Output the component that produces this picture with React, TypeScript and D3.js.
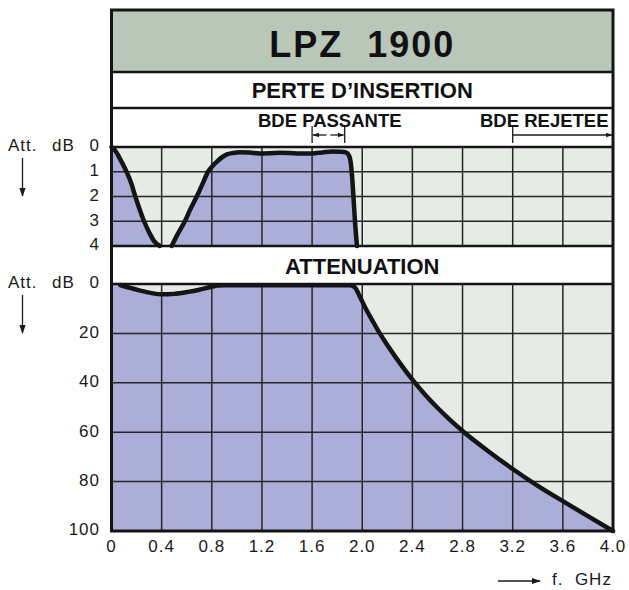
import React from "react";
import * as d3 from "d3";

// ---- data ----
const titleText = "LPZ 1900";
const insTitle = "PERTE D\u2019INSERTION";
const attTitle = "ATTENUATION";
const passLabel = "BDE PASSANTE";
const rejLabel = "BDE REJETEE";
const axisUnit = "Att.";
const axisDb = "dB";
const freqLabel = "f.  GHz";

const freqTicks = [0, 0.4, 0.8, 1.2, 1.6, 2.0, 2.4, 2.8, 3.2, 3.6, 4.0];
const freqTickLabels = ["0", "0.4", "0.8", "1.2", "1.6", "2.0", "2.4", "2.8", "3.2", "3.6", "4.0"];
const insTicks = [0, 1, 2, 3, 4];
const attTicks = [0, 20, 40, 60, 80, 100];

const passBand = [1.6, 1.86];
const rejStart = 3.2;

const insLeftFreq = [0, 0.03, 0.07, 0.12, 0.16, 0.19, 0.22, 0.26, 0.3, 0.34, 0.385];
const insLeftDb = [0, 0.15, 0.5, 1.0, 1.5, 2.0, 2.45, 3.0, 3.45, 3.8, 4.0];

const insRightFreq = [0.48, 0.53, 0.585, 0.63, 0.68, 0.725, 0.77, 0.81, 0.84, 0.88, 0.92, 0.97, 1.02, 1.1, 1.18, 1.26, 1.34, 1.42, 1.5, 1.6, 1.68, 1.76, 1.83, 1.87, 1.895, 1.91, 1.922, 1.932, 1.942, 1.958];
const insRightDb = [4.0, 3.5, 3.0, 2.5, 2.0, 1.5, 1.0, 0.75, 0.6, 0.42, 0.3, 0.24, 0.21, 0.22, 0.26, 0.25, 0.23, 0.24, 0.26, 0.26, 0.22, 0.18, 0.19, 0.22, 0.35, 0.7, 1.4, 2.2, 3.0, 4.0];

const attFreq = [0.07, 0.15, 0.23, 0.32, 0.4, 0.5, 0.61, 0.7, 0.79, 0.85, 0.9, 1.2, 1.5, 1.8, 1.9, 1.94, 1.98, 2.02, 2.08, 2.14, 2.2, 2.27, 2.4, 2.5, 2.6, 2.7, 2.8, 3.0, 3.2, 3.4, 3.6, 3.8, 4.0];
const attDb = [0.4, 1.6, 2.7, 3.7, 4.2, 4.0, 3.2, 2.3, 1.2, 0.6, 0.5, 0.5, 0.5, 0.5, 0.5, 1.3, 5.0, 9.2, 14.7, 20, 24.7, 29.9, 38.7, 44.7, 50.1, 55.0, 59.5, 67.5, 74.9, 81.7, 87.9, 94.0, 100];

// ---- layout ----
const W = 629;
const H = 590;
const X0 = 111.5;
const X1 = 613;
const TOP = 10;
const TITLE_B = 72;
const PERTE_B = 108;
const INS_T = 147;
const INS_B = 246;
const ATT_T = 284;
const ATT_B = 531;

const FONT = "'Liberation Sans', Arial, Helvetica, sans-serif";
const BG = "#e6ebe5";
const FILL = "#abaed8";
const TITLE_BG = "#b9c7b8";
const INK = "#141414";

type P = { f: number; v: number };
const zip = (a: number[], b: number[]): P[] => a.map((f, i) => ({ f, v: b[i] }));

export default function App() {
  const x = d3.scaleLinear().domain([0, 4]).range([X0, X1]);
  const yIns = d3.scaleLinear().domain([0, 4]).range([INS_T, INS_B]);
  const yAtt = d3.scaleLinear().domain([0, 100]).range([ATT_T, ATT_B]);

  const insLeft = zip(insLeftFreq, insLeftDb);
  const insRight = zip(insRightFreq, insRightDb);
  const att = zip(attFreq, attDb);
  const attArea = [{ f: 0, v: 0 }, ...att];

  const curve = d3.curveMonotoneX;
  const insLine = d3.line<P>().x((d) => x(d.f)).y((d) => yIns(d.v)).curve(curve);
  const insArea = d3.area<P>().x((d) => x(d.f)).y0(yIns(4)).y1((d) => yIns(d.v)).curve(curve);
  const attLine = d3.line<P>().x((d) => x(d.f)).y((d) => yAtt(d.v)).curve(curve);
  const attAreaGen = d3.area<P>().x((d) => x(d.f)).y0(yAtt(100)).y1((d) => yAtt(d.v)).curve(curve);

  const cx = (X0 + X1) / 2;
  const gridStroke = "#262626";
  const innerFreq = freqTicks.slice(1, -1);

  const labelStyle = { fontFamily: FONT, fontSize: 17, fill: "#1a1a1a", letterSpacing: 1 } as const;

  return (
    <svg width={W} height={H} style={{ position: "absolute", left: 0, top: 0, background: "#fff" }}>
      <defs>
        <marker id="ah" viewBox="0 0 10 10" refX="9" refY="5" markerWidth="7" markerHeight="7" orient="auto-start-reverse">
          <path d="M0,1.5 L10,5 L0,8.5 z" fill="#1a1a1a" />
        </marker>
        <marker id="ahs" viewBox="0 0 10 10" refX="9" refY="5" markerWidth="5" markerHeight="5" orient="auto-start-reverse">
          <path d="M0,1.5 L10,5 L0,8.5 z" fill="#1a1a1a" />
        </marker>
      </defs>

      {/* bands */}
      <rect x={X0} y={TOP} width={X1 - X0} height={TITLE_B - TOP} fill={TITLE_BG} />
      <rect x={X0} y={TITLE_B} width={X1 - X0} height={INS_T - TITLE_B} fill="#fff" />
      <rect x={X0} y={INS_T} width={X1 - X0} height={INS_B - INS_T} fill={BG} />
      <rect x={X0} y={INS_B} width={X1 - X0} height={ATT_T - INS_B} fill="#fff" />
      <rect x={X0} y={ATT_T} width={X1 - X0} height={ATT_B - ATT_T} fill={BG} />

      {/* fills */}
      <path d={insArea(insLeft) || ""} fill={FILL} />
      <path d={insArea(insRight) || ""} fill={FILL} />
      <path d={attAreaGen(attArea) || ""} fill={FILL} />

      {/* grids */}
      {innerFreq.map((f) => (
        <g key={"v" + f}>
          <line x1={x(f)} x2={x(f)} y1={INS_T} y2={INS_B} stroke={gridStroke} strokeWidth={1.5} />
          <line x1={x(f)} x2={x(f)} y1={ATT_T} y2={ATT_B} stroke={gridStroke} strokeWidth={1.5} />
        </g>
      ))}
      {insTicks.slice(1, -1).map((t) => (
        <line key={"hi" + t} x1={X0} x2={X1} y1={yIns(t)} y2={yIns(t)} stroke={gridStroke} strokeWidth={1.5} />
      ))}
      {attTicks.slice(1, -1).map((t) => (
        <line key={"ha" + t} x1={X0} x2={X1} y1={yAtt(t)} y2={yAtt(t)} stroke={gridStroke} strokeWidth={1.5} />
      ))}

      {/* curves */}
      <path d={insLine(insLeft) || ""} fill="none" stroke={INK} strokeWidth={4.5} strokeLinecap="round" strokeLinejoin="round" />
      <path d={insLine(insRight) || ""} fill="none" stroke={INK} strokeWidth={4.5} strokeLinecap="round" strokeLinejoin="round" />
      <path d={attLine(att) || ""} fill="none" stroke={INK} strokeWidth={4.5} strokeLinecap="round" strokeLinejoin="round" />

      {/* band separators & frame */}
      {[TITLE_B, PERTE_B, INS_T, INS_B, ATT_T].map((yy) => (
        <line key={"s" + yy} x1={X0} x2={X1} y1={yy} y2={yy} stroke={INK} strokeWidth={2.5} />
      ))}
      <rect x={X0} y={TOP} width={X1 - X0} height={ATT_B - TOP} fill="none" stroke={INK} strokeWidth={3} />

      {/* titles */}
      <text x={cx} y={57} textAnchor="middle" fontFamily={FONT} fontWeight="bold" fontSize={36} letterSpacing={2} fill="#111">
        {titleText.replace(" ", "\u00a0\u00a0")}
      </text>
      <text x={cx} y={98} textAnchor="middle" fontFamily={FONT} fontWeight="bold" fontSize={22} fill="#111">
        {insTitle}
      </text>
      <text x={cx} y={274} textAnchor="middle" fontFamily={FONT} fontWeight="bold" fontSize={22} fill="#111">
        {attTitle}
      </text>
      <text x={258} y={127} fontFamily={FONT} fontWeight="bold" fontSize={18.5} fill="#111">
        {passLabel}
      </text>
      <text x={480} y={127} fontFamily={FONT} fontWeight="bold" fontSize={18.5} fill="#111">
        {rejLabel}
      </text>

      {/* band markers */}
      {passBand.map((f) => (
        <line key={"pb" + f} x1={x(f)} x2={x(f)} y1={126} y2={143} stroke="#1a1a1a" strokeWidth={1.3} />
      ))}
      <line x1={x(passBand[0]) + 1} x2={(x(passBand[0]) + x(passBand[1])) / 2 - 2} y1={135} y2={135} stroke="#1a1a1a" strokeWidth={1.3} markerStart="url(#ahs)" />
      <line x1={(x(passBand[0]) + x(passBand[1])) / 2 + 2} x2={x(passBand[1]) - 1} y1={135} y2={135} stroke="#1a1a1a" strokeWidth={1.3} markerEnd="url(#ahs)" />
      <line x1={x(rejStart)} x2={x(rejStart)} y1={126} y2={143} stroke="#1a1a1a" strokeWidth={1.3} />
      <line x1={x(rejStart)} x2={X1 - 1} y1={135} y2={135} stroke="#1a1a1a" strokeWidth={1.3} markerEnd="url(#ahs)" />

      {/* y axis labels */}
      {[INS_T, ATT_T].map((yy) => (
        <g key={"ax" + yy}>
          <text x={8} y={yy} dominantBaseline="middle" {...labelStyle}>
            {axisUnit}
          </text>
          <text x={52} y={yy} dominantBaseline="middle" {...labelStyle}>
            {axisDb}
          </text>
          <line x1={22.5} x2={22.5} y1={yy + 11} y2={yy + 49} stroke="#1a1a1a" strokeWidth={1.3} markerEnd="url(#ah)" />
        </g>
      ))}
      {insTicks.map((t) => (
        <text key={"it" + t} x={100} y={yIns(t)} textAnchor="end" dominantBaseline="middle" {...labelStyle}>
          {t}
        </text>
      ))}
      {attTicks.map((t) => (
        <text key={"at" + t} x={100} y={yAtt(t)} textAnchor="end" dominantBaseline="middle" {...labelStyle}>
          {t}
        </text>
      ))}

      {/* x axis labels */}
      {freqTicks.map((f, i) => (
        <text key={"xt" + f} x={x(f)} y={548} textAnchor="middle" dominantBaseline="middle" {...labelStyle}>
          {freqTickLabels[i]}
        </text>
      ))}
      <line x1={498} x2={540} y1={581} y2={581} stroke="#1a1a1a" strokeWidth={1.3} markerEnd="url(#ah)" />
      <text x={552} y={581} dominantBaseline="middle" {...labelStyle}>
        {freqLabel.replace("  ", "\u00a0\u00a0")}
      </text>
    </svg>
  );
}
